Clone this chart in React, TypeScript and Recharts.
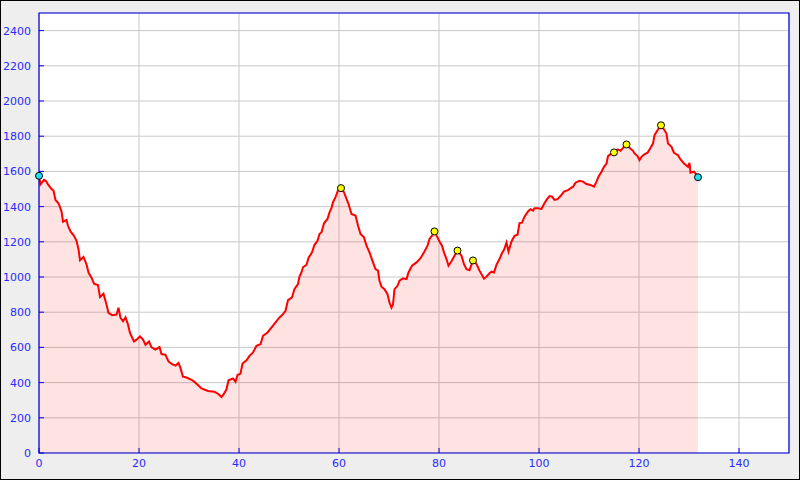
import React from "react";
import {
  ComposedChart,
  Area,
  Scatter,
  XAxis,
  YAxis,
  CartesianGrid,
  ReferenceArea,
} from "recharts";

// distance (km) and elevation (m)
const distances = [
  0, 0.3, 1, 1.4, 1.8, 2.5, 2.9, 3.3, 3.9, 4.5, 4.8, 5.5, 5.8, 6.3, 7, 7.5, 7.9, 8.2, 8.9, 9.5,
  9.9, 10.5, 11, 11.8, 12.2, 12.9, 13.5, 13.9, 14.6, 15.5, 15.9, 16.3, 16.8, 17.3, 17.8, 18.2, 19,
  19.5, 20.2, 20.8, 21.3, 22, 22.5, 23.3, 24.1, 24.5, 25.3, 25.9, 26.6, 27.3, 27.9, 28.3, 28.8,
  29.5, 30.5, 31.1, 32.5, 33.8, 35.1, 35.8, 36.5, 37, 37.5, 37.9, 38.8, 39.3, 39.7, 40.3, 40.7,
  41.5, 42.1, 42.8, 43.5, 44.3, 44.8, 45.7, 46.6, 47.3, 48.1, 48.8, 49.3, 49.8, 50.6, 51.1, 51.8,
  52.1, 52.5, 52.8, 53.5, 53.9, 54.6, 55.1, 55.7, 56.1, 56.5, 57, 57.7, 58.1, 58.5, 58.8, 59.3,
  59.8, 60.4, 61, 61.5, 61.9, 62.5, 63.3, 63.8, 64.3, 65, 65.5, 66.1, 66.8, 67.3, 67.8, 68.1,
  68.5, 69.1, 69.7, 70.1, 70.5, 70.8, 71.1, 71.7, 72.1, 72.8, 73.5, 73.9, 74.6, 75.5, 76.3, 77,
  77.7, 78.1, 78.6, 79.1, 79.7, 80.1, 80.6, 81, 81.5, 81.9, 82.5, 83.1, 83.7, 84.5, 85, 85.5,
  86.1, 86.8, 87.5, 88.1, 89, 89.5, 90.1, 90.5, 91, 91.5, 92.1, 92.6, 93, 93.5, 93.9, 94.5, 95.1,
  95.7, 96.1, 96.6, 97.1, 97.8, 98.3, 98.8, 99.1, 99.8, 100.5, 101, 101.5, 102.1, 102.6, 103.1,
  103.7, 104.3, 105, 105.8, 106.3, 106.8, 107.3, 108.1, 108.8, 109.5, 110.3, 111, 111.5, 111.9,
  112.5, 113, 113.5, 113.8, 114.3, 115, 115.8, 116.3, 117, 117.5, 118.1, 118.8, 119.1, 119.7,
  120.1, 120.5, 121, 121.7, 122.1, 122.8, 123.1, 123.7, 124.4, 125, 125.5, 125.8, 126.5, 127,
  127.8, 128.3, 129, 129.8, 130.1, 130.3, 131, 131.3, 131.8,
];

const elevations = [
  1575, 1526, 1552, 1545, 1526, 1500, 1491, 1438, 1419, 1373, 1314, 1324, 1291, 1259, 1234, 1206,
  1158, 1095, 1114, 1072, 1025, 996, 962, 954, 886, 905, 844, 796, 783, 787, 825, 768, 749, 771,
  730, 682, 634, 644, 663, 644, 615, 634, 600, 587, 602, 562, 558, 520, 505, 497, 512, 482, 434,
  429, 416, 404, 367, 352, 348, 337, 318, 337, 362, 413, 424, 405, 443, 451, 508, 527, 552, 571,
  609, 618, 666, 685, 717, 742, 770, 789, 808, 869, 884, 932, 960, 1002, 1027, 1055, 1070, 1108,
  1140, 1183, 1206, 1244, 1254, 1305, 1330, 1368, 1393, 1425, 1454, 1492, 1505, 1482, 1444, 1416,
  1358, 1349, 1292, 1244, 1225, 1178, 1140, 1083, 1045, 1036, 979, 945, 931, 902, 855, 826, 845,
  931, 950, 979, 993, 988, 1026, 1064, 1083, 1107, 1140, 1178, 1216, 1235, 1259, 1225, 1202, 1178,
  1140, 1102, 1064, 1089, 1121, 1150, 1121, 1073, 1045, 1039, 1094, 1073, 1036, 990, 1002, 1021,
  1030, 1026, 1070, 1102, 1136, 1155, 1196, 1145, 1202, 1234, 1240, 1306, 1309, 1343, 1372, 1385,
  1377, 1391, 1391, 1387, 1415, 1438, 1460, 1457, 1438, 1442, 1460, 1485, 1494, 1504, 1513, 1536,
  1547, 1542, 1528, 1523, 1513, 1542, 1570, 1598, 1626, 1645, 1687, 1698, 1708, 1725, 1717, 1740,
  1753, 1734, 1717, 1702, 1687, 1664, 1683, 1696, 1706, 1725, 1758, 1806, 1834, 1862, 1838, 1815,
  1758, 1740, 1706, 1692, 1668, 1645, 1626, 1649, 1592, 1598, 1589, 1567,
];

const peakKm = [60.4, 79.1, 83.7, 86.8, 115, 117.5, 124.4];
const peakEle = [1505, 1259, 1150, 1094, 1708, 1753, 1862];
const endKm = [0, 131.8];
const endEle = [1575, 1567];

const xTicks = [0, 20, 40, 60, 80, 100, 120, 140];
const yTicks = [0, 200, 400, 600, 800, 1000, 1200, 1400, 1600, 1800, 2000, 2200, 2400];

const profile = distances.map((km, i) => ({ km, ele: elevations[i] }));
const peaks = peakKm.map((km, i) => ({ km, ele: peakEle[i] }));
const ends = endKm.map((km, i) => ({ km, ele: endEle[i] }));

const AXIS = "#0000dd";
const LABEL = "#2a2aff";

const YTick = (props: any) => {
  const { x, y, payload } = props;
  return (
    <g>
      <line x1={x} y1={y} x2={x + 5} y2={y} stroke={AXIS} />
      <text x={x - 8} y={y + 4} textAnchor="end" fontSize={11} fill={LABEL} fontFamily="DejaVu Sans">
        {payload.value}
      </text>
    </g>
  );
};

const XTick = (props: any) => {
  const { x, y, payload } = props;
  return (
    <g>
      <line x1={x} y1={y} x2={x} y2={y - 5} stroke={AXIS} />
      <text x={x} y={y + 14} textAnchor="middle" fontSize={11} fill={LABEL} fontFamily="DejaVu Sans">
        {payload.value}
      </text>
    </g>
  );
};

const dot = (color: string) => (props: any) => (
  <circle cx={props.cx} cy={props.cy} r={3.5} fill={color} stroke="#000" strokeWidth={1} />
);

export default function App() {
  return (
    <div
      style={{
        position: "fixed",
        top: 0,
        left: 0,
        width: 800,
        height: 480,
        boxSizing: "border-box",
        border: "1px solid #000",
        background: "#eeeeee",
      }}
    >
      <div style={{ position: "absolute", top: -1, left: -1 }}>
        <ComposedChart
          width={800}
          height={480}
          margin={{ top: 13, right: 11, bottom: 0, left: 0 }}
        >
          <CartesianGrid stroke="#c8c8c8" fill="#ffffff" />
          <XAxis
            dataKey="km"
            type="number"
            domain={[0, 150]}
            ticks={xTicks}
            height={27}
            axisLine={false}
            tickLine={false}
            tickSize={0}
            tickMargin={0}
            tick={<XTick />}
          />
          <YAxis
            type="number"
            domain={[0, 2500]}
            ticks={yTicks}
            width={39}
            axisLine={false}
            tickLine={false}
            tickSize={0}
            tickMargin={0}
            tick={<YTick />}
          />
          <Area
            data={profile}
            dataKey="ele"
            type="linear"
            stroke="#ff0000"
            strokeWidth={2}
            fill="#ff0000"
            fillOpacity={0.11}
            dot={false}
            activeDot={false}
            isAnimationActive={false}
          />
          <ReferenceArea x1={0} x2={150} y1={0} y2={2500} fill="none" stroke={AXIS} strokeWidth={1.2} ifOverflow="visible" />
          <Scatter data={peaks} dataKey="ele" shape={dot("#ffff00")} isAnimationActive={false} />
          <Scatter data={ends} dataKey="ele" shape={dot("#22e0ee")} isAnimationActive={false} />
        </ComposedChart>
      </div>
    </div>
  );
}
